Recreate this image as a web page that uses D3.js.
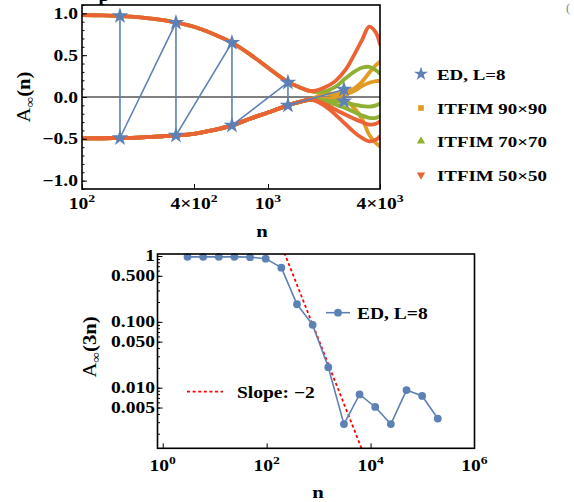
<!DOCTYPE html>
<html lang="en"><head><meta charset="UTF-8">
<script src="https://d3js.org/d3.v7.min.js"></script>
<style>
  body { margin: 0; background: #fff; }
  text { font-family: "Liberation Serif", "Times New Roman", serif; font-weight: bold; fill: #000; }
</style>
</head>
<body>
<div id="chart"></div>
<script>
// ---------- top panel: A_inf(n) ----------
const topN = [100, 130, 160, 200, 250, 320, 400, 500, 640, 800, 1000, 1280, 1500, 1700,
              2000, 2300, 2600, 2900, 3200, 3500, 3800, 4000];
// shared part of the curves (n = 100 .. 1700)
const upperCommon = [0.98, 0.975, 0.968, 0.955, 0.93, 0.89, 0.84, 0.76, 0.65, 0.51, 0.35, 0.18, 0.11, 0.07];
const lowerCommon = [-0.495, -0.493, -0.49, -0.485, -0.475, -0.46, -0.44, -0.40, -0.34, -0.26, -0.185, -0.10, -0.055, -0.03];
// tails where the sizes split (n = 2000 .. 4000)
const red1 = [0.11, 0.19, 0.32, 0.50, 0.68, 0.84, 0.77, 0.63];
const red2 = [-0.08, -0.15, -0.21, -0.26, -0.30, -0.33, -0.32, -0.29];
const red3 = [-0.10, -0.21, -0.32, -0.42, -0.49, -0.53, -0.51, -0.47];
const green1 = [0.065, 0.12, 0.22, 0.30, 0.35, 0.36, 0.32, 0.28];
const green2 = [-0.04, -0.05, -0.07, -0.09, -0.11, -0.115, -0.10, -0.075];
const green3 = [-0.05, -0.09, -0.13, -0.18, -0.22, -0.25, -0.25, -0.23];
const orange1 = [0.05, 0.04, 0.06, 0.10, 0.18, 0.29, 0.38, 0.42];
const orange2 = [0.04, 0.02, 0.03, 0.07, 0.13, 0.17, 0.19, 0.19];
const orange3 = [-0.02, -0.02, -0.04, -0.13, -0.26, -0.45, -0.55, -0.59];

const edN = [160, 160, 320, 320, 640, 640, 1280, 1280, 2560, 2560];
const edA = [0.968, -0.49, 0.889, -0.46, 0.65, -0.34, 0.175, -0.10, 0.09, -0.05];

const topYTicks = [1, 0.5, 0, -0.5, -1];
const topYLabels = ["1.0", "0.5", "0.0", "\u22120.5", "\u22121.0"];
const topXTicks = [100, 400, 1000, 4000];
const topXLabels = [["10", "2"], ["4\u00d710", "2"], ["10", "3"], ["4\u00d710", "3"]];

const legendTop = ["ED, L=8", "ITFIM 90\u00d790", "ITFIM 70\u00d770", "ITFIM 50\u00d750"];

// ---------- bottom panel: A_inf(3n) ----------
const botN = [3, 6, 12, 24, 48, 96, 192, 384, 768, 1536, 3072, 6144, 12288, 24576, 49152, 98304, 196608];
const botA = [0.97, 0.97, 0.97, 0.97, 0.96, 0.91, 0.665, 0.185, 0.09, 0.0205, 0.0028, 0.0079, 0.0051, 0.0028, 0.0092, 0.0075, 0.0034];
const slopeN = [200, 7000];
const slopeA = [1.34, 0.0011];

const botYTicks = [1, 0.5, 0.1, 0.05, 0.01, 0.005];
const botYLabels = ["1", "0.500", "0.100", "0.050", "0.010", "0.005"];
const botXTicks = [1, 100, 10000, 1000000];
const botXLabels = [["10", "0"], ["10", "2"], ["10", "4"], ["10", "6"]];

const C_BLUE = "#5E81B5", C_ORANGE = "#E19C24", C_GREEN = "#8FB032", C_RED = "#EB6235";
const SX = 1.22;

function label(g, x, y, base, sup, anchor, size) {
  const t = g.append("text")
    .attr("transform", `translate(${x},${y}) scale(${SX},1)`)
    .attr("text-anchor", anchor)
    .style("font-size", size + "px");
  t.append("tspan").text(base);
  if (sup) t.append("tspan").attr("dy", -size * 0.42).style("font-size", (size * 0.7) + "px").text(sup);
  return t;
}

function yTitle(g, x, y, arg) {
  const t = g.append("text")
    .attr("transform", `translate(${x},${y}) rotate(-90) scale(1.15,1)`)
    .attr("text-anchor", "middle")
    .style("font-size", "18px");
  t.append("tspan").style("font-weight", "normal").text("A");
  t.append("tspan").attr("dy", 4).style("font-size", "13px").style("font-weight", "normal").text("\u221e");
  t.append("tspan").attr("dy", -4).text(arg);
}

function draw() {
  const svg = d3.select("#chart").append("svg")
    .attr("width", 574).attr("height", 502)
    .attr("viewBox", [0, 0, 574, 502]);

  // ======== TOP ========
  const x1 = d3.scaleLog().domain([100, 4000]).range([82, 380]);
  const y1 = d3.scaleLinear().domain([-1.1, 1.1]).range([189, 5]);

  svg.append("clipPath").attr("id", "clipTop")
    .append("rect").attr("x", 82).attr("y", 5).attr("width", 298).attr("height", 184);

  const top = svg.append("g");
  const plot = top.append("g").attr("clip-path", "url(#clipTop)");

  plot.append("line")
    .attr("x1", 82).attr("x2", 380).attr("y1", y1(0)).attr("y2", y1(0))
    .attr("stroke", "#000").attr("stroke-width", 1);

  const curve = d3.line()
    .x((d, i) => x1(topN[i]))
    .y(d => y1(d))
    .curve(d3.curveCatmullRom);

  const series = [
    [C_ORANGE, [orange1, orange2, orange3]],
    [C_GREEN, [green1, green2, green3]],
    [C_RED, [red1, red2, red3]]
  ];
  series.forEach(([col, tails]) => {
    tails.forEach((tail, k) => {
      const base = k === 0 ? upperCommon : lowerCommon;
      plot.append("path")
        .attr("d", curve(base.concat(tail)))
        .attr("fill", "none")
        .attr("stroke", col)
        .attr("stroke-width", 3.8)
        .attr("stroke-linecap", "round");
    });
  });

  const edLine = d3.line().x((d, i) => x1(edN[i])).y(d => y1(d));
  plot.append("path")
    .attr("d", edLine(edA))
    .attr("fill", "none").attr("stroke", C_BLUE).attr("stroke-width", 1.6);

  const star = d3.symbol(d3.symbolStar, 85);
  top.selectAll(".star").data(edA).join("path")
    .attr("transform", (d, i) => `translate(${x1(edN[i])},${y1(d)})`)
    .attr("d", star).attr("fill", C_BLUE);

  // ticks (inside the frame)
  top.append("g").attr("transform", "translate(82,0)")
    .call(d3.axisLeft(y1).tickValues(topYTicks).tickSize(-5).tickFormat(""))
    .call(g => g.select(".domain").remove());
  top.append("g").attr("transform", "translate(82,0)")
    .call(d3.axisLeft(y1).tickValues(d3.range(-11, 12).map(v => v / 10)).tickSize(-2.5).tickFormat(""))
    .call(g => g.select(".domain").remove());
  top.append("g").attr("transform", "translate(0,189)")
    .call(d3.axisBottom(x1).tickValues(topXTicks).tickSize(-5).tickFormat(""))
    .call(g => g.select(".domain").remove());
  top.selectAll(".tick line").attr("stroke", "#000");

  top.append("rect")
    .attr("x", 82).attr("y", 5).attr("width", 298).attr("height", 184)
    .attr("fill", "none").attr("stroke", "#000").attr("stroke-width", 1.6);

  topYTicks.forEach((v, i) => label(top, 78, y1(v) + 5.5, topYLabels[i], null, "end", 16));
  topXTicks.forEach((v, i) => label(top, x1(v), 209, topXLabels[i][0], topXLabels[i][1], "middle", 16));
  label(top, 262, 237, "n", null, "middle", 17);
  yTitle(top, 30, 97, "(n)");

  // legend
  const legY = [74, 108, 141, 175];
  const legSym = [
    d3.symbol(d3.symbolStar, 60),
    d3.symbol(d3.symbolSquare, 32),
    d3.symbol(d3.symbolTriangle, 30),
    d3.symbol(d3.symbolTriangle, 30)
  ];
  const legCol = [C_BLUE, C_ORANGE, C_GREEN, C_RED];
  legendTop.forEach((s, i) => {
    top.append("path")
      .attr("transform", `translate(421,${legY[i]})` + (i === 3 ? " rotate(180)" : ""))
      .attr("d", legSym[i]).attr("fill", legCol[i]);
    label(top, 437, legY[i] + 5.5, s, null, "start", 15.5);
  });

  // ======== BOTTOM ========
  const x2 = d3.scaleLog().domain([Math.pow(10, -0.1), 1e6]).range([157.5, 474.5]);
  const y2 = d3.scaleLog().domain([Math.pow(10, -2.92), Math.pow(10, 0.03)]).range([448.3, 254]);

  svg.append("clipPath").attr("id", "clipBot")
    .append("rect").attr("x", 157.5).attr("y", 254).attr("width", 317).attr("height", 194.3);

  const bot = svg.append("g");
  const plot2 = bot.append("g").attr("clip-path", "url(#clipBot)");

  const slope = d3.line().x((d, i) => x2(slopeN[i])).y(d => y2(d));
  plot2.append("path")
    .attr("d", slope(slopeA))
    .attr("fill", "none").attr("stroke", "#FF0000").attr("stroke-width", 1.8)
    .attr("stroke-dasharray", "3,2.6");

  const edBot = d3.line().x((d, i) => x2(botN[i])).y(d => y2(d));
  plot2.append("path")
    .attr("d", edBot(botA))
    .attr("fill", "none").attr("stroke", C_BLUE).attr("stroke-width", 1.6);

  bot.selectAll(".dot").data(botA).join("circle")
    .attr("cx", (d, i) => x2(botN[i])).attr("cy", d => y2(d))
    .attr("r", 3.9).attr("fill", C_BLUE);

  const minorY = [];
  [0.001, 0.01, 0.1].forEach(dec => d3.range(1, 10).forEach(k => minorY.push(dec * k)));
  minorY.push(1);
  bot.append("g").attr("transform", "translate(157.5,0)")
    .call(d3.axisLeft(y2).tickValues(minorY.filter(v => v >= 0.0012 && v <= 1.07)).tickSize(-2.5).tickFormat(""))
    .call(g => g.select(".domain").remove());
  bot.append("g").attr("transform", "translate(157.5,0)")
    .call(d3.axisLeft(y2).tickValues(botYTicks).tickSize(-5).tickFormat(""))
    .call(g => g.select(".domain").remove());
  bot.append("g").attr("transform", "translate(0,448.3)")
    .call(d3.axisBottom(x2).tickValues(botXTicks.slice(0, 3)).tickSize(-5).tickFormat(""))
    .call(g => g.select(".domain").remove());
  bot.selectAll(".tick line").attr("stroke", "#000");

  bot.append("rect")
    .attr("x", 157.5).attr("y", 254).attr("width", 317).attr("height", 194.3)
    .attr("fill", "none").attr("stroke", "#000").attr("stroke-width", 1.6);

  botYTicks.forEach((v, i) => label(bot, 155, y2(v) + 5.5, botYLabels[i], null, "end", 16));
  botXTicks.forEach((v, i) => label(bot, x2(v), 471, botXLabels[i][0], botXLabels[i][1], "middle", 16));
  label(bot, 318, 498, "n", null, "middle", 17);
  yTitle(bot, 96, 347, "(3n)");

  // legend
  bot.append("line").attr("x1", 326).attr("x2", 350).attr("y1", 312.7).attr("y2", 312.7)
    .attr("stroke", C_BLUE).attr("stroke-width", 1.6);
  bot.append("circle").attr("cx", 338).attr("cy", 312.7).attr("r", 3.9).attr("fill", C_BLUE);
  label(bot, 357, 318.5, "ED, L=8", null, "start", 16);
  bot.append("line").attr("x1", 187).attr("x2", 223).attr("y1", 391.7).attr("y2", 391.7)
    .attr("stroke", "#FF0000").attr("stroke-width", 1.8).attr("stroke-dasharray", "3,2.6");
  label(bot, 237, 397.5, "Slope: \u22122", null, "start", 16);

  // cropped caption fragments at the top edge
  label(svg, 104, 1, "p", null, "middle", 16);
  svg.append("text").attr("x", 566).attr("y", 12).style("font-size", "13px")
    .style("font-weight", "normal").style("fill", "#888").text("(");
}

window.onload = draw;
</script>
</body>
</html>
